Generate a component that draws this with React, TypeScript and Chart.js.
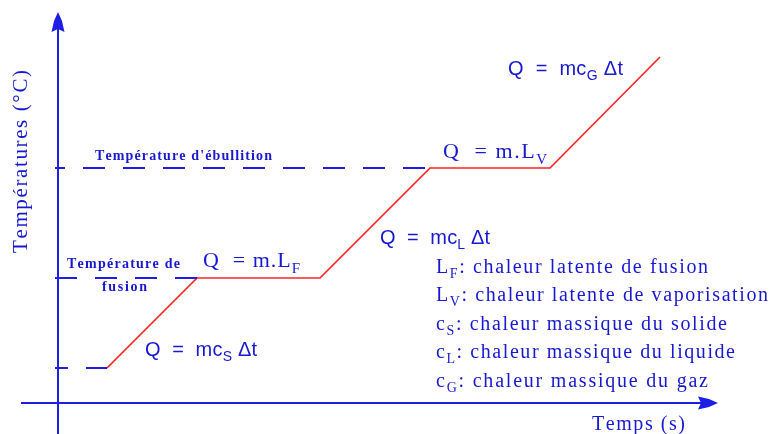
import React, { useEffect, useRef } from "react";
import { Chart, registerables } from "chart.js";

Chart.register(...registerables);

// ---- Data (abstract units) ----
const timeValues = [4.9, 13.9, 26.2, 37.2, 49.2, 60.2];
const temperatureValues = [3.5, 12.5, 12.5, 23.5, 23.5, 34.6];
const referenceTemps = [3.5, 12.5, 23.5];
const referenceEnds = [4.9, 13.9, 37.2];
const xAxisLabel = "Temps (s)";
const yAxisLabel = "Températures (°C)";
const boilingLabel = "Température d'ébullition";
const fusionLabelTop = "Température de";
const fusionLabelBottom = "fusion";
const legendSymbols = ["L", "L", "c", "c", "c"];
const legendSubs = ["F", "V", "S", "L", "G"];
const legendTexts = [
  ": chaleur latente de fusion",
  ": chaleur latente de vaporisation",
  ": chaleur massique du solide",
  ": chaleur massique du liquide",
  ": chaleur massique du gaz",
];

// ---- Styles ----
const BLUE = "rgb(30,30,228)";
const TEXT_BLUE = "rgb(24,24,206)";
const RED = "rgb(255,36,36)";
const SERIF = "'Liberation Serif', 'DejaVu Serif', serif";
const SANS = "'Liberation Sans', Arial, sans-serif";

type Part = { t: string; sub?: boolean };
type Label = {
  parts: Part[];
  x: number;
  y: number;
  family: string;
  size: number;
  weight?: string;
  width: number;
  rotate?: boolean;
};

const legendYs = [13.0, 10.2, 7.3, 4.5, 1.6];
const legendWidths = [272, 332, 291, 299, 272];

const labels: Label[] = [
  { parts: [{ t: boilingLabel }], x: 3.7, y: 24.3, family: SERIF, size: 14, weight: "bold", width: 177 },
  { parts: [{ t: fusionLabelTop }], x: 0.9, y: 13.5, family: SERIF, size: 14, weight: "bold", width: 113 },
  { parts: [{ t: fusionLabelBottom }], x: 4.4, y: 11.2, family: SERIF, size: 14, weight: "bold", width: 45 },
  { parts: [{ t: "Q  = m.L" }, { t: "F", sub: true }], x: 14.5, y: 13.6, family: SERIF, size: 22, width: 97 },
  { parts: [{ t: "Q  = m.L" }, { t: "V", sub: true }], x: 38.5, y: 24.5, family: SERIF, size: 22, width: 104 },
  { parts: [{ t: "Q  =  mc" }, { t: "G", sub: true }, { t: " Δt" }], x: 45.0, y: 32.8, family: SANS, size: 20, width: 115 },
  { parts: [{ t: "Q  =  mc" }, { t: "L", sub: true }, { t: " Δt" }], x: 32.2, y: 15.9, family: SANS, size: 20, width: 110 },
  { parts: [{ t: "Q  =  mc" }, { t: "S", sub: true }, { t: " Δt" }], x: 8.7, y: 4.7, family: SANS, size: 20, width: 112 },
  ...legendTexts.map((txt, i) => ({
    parts: [{ t: legendSymbols[i] }, { t: legendSubs[i], sub: true }, { t: txt }],
    x: 37.8,
    y: legendYs[i],
    family: SERIF,
    size: 20,
    width: legendWidths[i],
  })),
  { parts: [{ t: xAxisLabel }], x: 53.4, y: -2.7, family: SERIF, size: 20, width: 93 },
  { parts: [{ t: yAxisLabel }], x: -3.1, y: 15.0, family: SERIF, size: 21, width: 183, rotate: true },
];

function drawLabel(ctx: CanvasRenderingContext2D, chart: any, lab: Label) {
  const xs = chart.scales.x;
  const ys = chart.scales.y;
  const px = xs.getPixelForValue(lab.x);
  const py = ys.getPixelForValue(lab.y);
  ctx.save();
  ctx.translate(px, py);
  if (lab.rotate) ctx.rotate(-Math.PI / 2);
  ctx.fillStyle = TEXT_BLUE;
  ctx.textBaseline = "alphabetic";
  ctx.textAlign = "left";
  const w = lab.weight || "normal";
  const mainFont = `${w} ${lab.size}px ${lab.family}`;
  const subSize = Math.round(lab.size * 0.68);
  const subFont = `${w} ${subSize}px ${lab.family}`;
  let natural = 0;
  let chars = 0;
  for (const p of lab.parts) {
    ctx.font = p.sub ? subFont : mainFont;
    for (const ch of Array.from(p.t)) {
      natural += ctx.measureText(ch).width;
      chars++;
    }
  }
  const extra = (lab.width - natural) / Math.max(1, chars - 1);
  let x = 0;
  for (const p of lab.parts) {
    ctx.font = p.sub ? subFont : mainFont;
    const dy = p.sub ? lab.size * 0.25 : 0;
    for (const ch of Array.from(p.t)) {
      ctx.fillText(ch, x, dy);
      x += ctx.measureText(ch).width + extra;
    }
  }
  ctx.restore();
}

function drawArrow(ctx: CanvasRenderingContext2D, tx: number, ty: number, angle: number) {
  ctx.save();
  ctx.translate(tx, ty);
  ctx.rotate(angle);
  ctx.fillStyle = BLUE;
  ctx.beginPath();
  ctx.moveTo(0, 0);
  ctx.lineTo(-9, -4);
  ctx.lineTo(-20, -6.5);
  ctx.lineTo(-17, 0);
  ctx.lineTo(-20, 6.5);
  ctx.lineTo(-9, 4);
  ctx.closePath();
  ctx.fill();
  ctx.restore();
}

const annotationPlugin = {
  id: "diagramText",
  afterDatasetsDraw(chart: any) {
    const ctx = chart.ctx as CanvasRenderingContext2D;
    const xs = chart.scales.x;
    const ys = chart.scales.y;
    drawArrow(ctx, xs.getPixelForValue(0), ys.getPixelForValue(39.1), -Math.PI / 2);
    drawArrow(ctx, xs.getPixelForValue(66.0), ys.getPixelForValue(0), 0);
    for (const lab of labels) drawLabel(ctx, chart, lab);
  },
};

export default function App() {
  const ref = useRef<HTMLCanvasElement | null>(null);
  useEffect(() => {
    if (!ref.current) return;
    const curve = timeValues.map((t, i) => ({ x: t, y: temperatureValues[i] }));
    const dashOffsets = [9, 0, 12];
    const refSets = referenceTemps.map((T, i) => ({
      data: [
        { x: -0.3, y: T },
        { x: referenceEnds[i], y: T },
      ],
      borderColor: BLUE,
      borderWidth: 2,
      borderDash: [22, 18],
      borderDashOffset: dashOffsets[i],
      showLine: true,
      pointRadius: 0,
      borderCapStyle: "butt" as const,
    }));
    const chart = new Chart(ref.current, {
      type: "scatter",
      data: {
        datasets: [
          ...refSets,
          {
            data: [
              { x: 0, y: -3.1 },
              { x: 0, y: 37.5 },
            ],
            borderColor: BLUE,
            borderWidth: 2,
            showLine: true,
            pointRadius: 0,
          },
          {
            data: [
              { x: -3.7, y: 0 },
              { x: 64.5, y: 0 },
            ],
            borderColor: BLUE,
            borderWidth: 2,
            showLine: true,
            pointRadius: 0,
          },
          {
            data: curve,
            borderColor: RED,
            borderWidth: 1.7,
            showLine: true,
            pointRadius: 0,
            tension: 0,
          },
        ],
      },
      options: {
        animation: false,
        responsive: true,
        maintainAspectRatio: false,
        layout: { padding: 0 },
        plugins: { legend: { display: false }, tooltip: { enabled: false }, title: { display: false } },
        scales: {
          x: { type: "linear", min: -5.8, max: 71.3, display: false },
          y: { type: "linear", min: -3.1, max: 40.3, display: false },
        },
      },
      plugins: [annotationPlugin],
    });
    return () => chart.destroy();
  }, []);
  return (
    <div style={{ position: "fixed", left: 0, top: 0, width: 771, height: 434, background: "#fff" }}>
      <canvas ref={ref} />
    </div>
  );
}
